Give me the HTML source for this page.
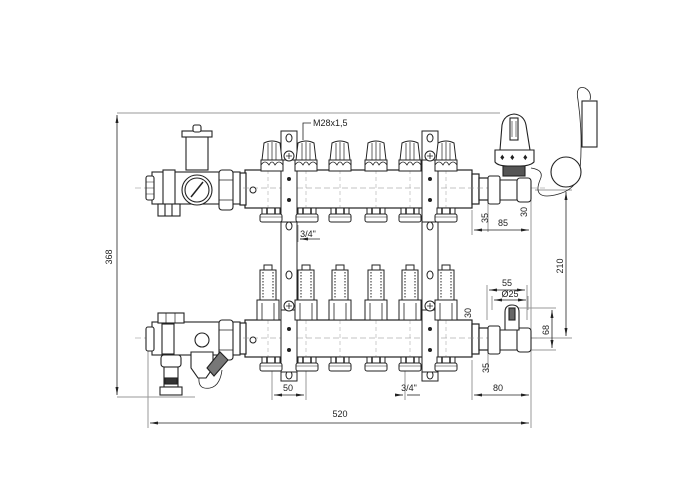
<!DOCTYPE html>
<html><head><meta charset="utf-8"><style>
html,body{margin:0;padding:0;background:#fff;}
svg{display:block;}
text{font-family:"Liberation Sans",sans-serif;font-size:9px;fill:#222;}
</style></head><body>
<svg width="700" height="500" viewBox="0 0 700 500" xmlns="http://www.w3.org/2000/svg">
<defs>
<marker id="a" markerWidth="8" markerHeight="6" refX="8" refY="3" orient="auto-start-reverse" markerUnits="userSpaceOnUse"><path d="M0,1.5 L8,3 L0,4.5 Z" fill="#222"/></marker>
<g id="knob" stroke="#222" fill="#fff" stroke-width="1">
<path d="M-10,0 L-8,-17 Q0,-21 8,-17 L10,0 Z"/>
<path d="M-4,-17 L-4,0 M0,-18 L0,0 M4,-17 L4,0" stroke-width="0.7"/>
<path d="M-11,0 L11,0 L11,11 L-11,11 Z"/>
<path d="M-11,5 Q-7,-1 -3,5 Q0,-1 3,5 Q7,-1 11,5" fill="none" stroke-width="0.8"/>
</g>
<g id="bfit" stroke="#222" fill="#fff" stroke-width="1">
<rect x="-9" y="0" width="18" height="6"/>
<path d="M-4,0 V6 M4,0 V6" stroke-width="1.5"/>
<rect x="-11" y="6" width="22" height="8" rx="2"/>
<line x1="-11" y1="9" x2="11" y2="9" stroke-width="0.6"/>
</g>
<g id="flow" stroke="#222" fill="#fff" stroke-width="1">
<rect x="-4" y="0" width="8" height="5"/>
<rect x="-8" y="5" width="16" height="30"/>
<path d="M-5,7 V33 M5,7 V33" stroke-dasharray="1.5,1.5"/>
<path d="M-11,35 H11 V55 H-11 Z"/>
<path d="M-6,38 V55 M6,38 V55" stroke-width="0.8"/>
</g>
</defs>

<g stroke="#999" fill="none" stroke-width="1">
<line x1="117" y1="113" x2="500" y2="113" stroke="#bbb" stroke-width="1.5"/>
<line x1="117" y1="397" x2="195" y2="397"/>
<line x1="148" y1="340" x2="148" y2="428"/>
<line x1="531" y1="200" x2="531" y2="428"/>
<line x1="472" y1="210" x2="472" y2="235"/>
<line x1="472" y1="360" x2="472" y2="400"/>
<line x1="272" y1="360" x2="272" y2="400"/>
<line x1="306" y1="360" x2="306" y2="400"/>
<line x1="298" y1="225" x2="298" y2="242"/>
<line x1="405" y1="360" x2="405" y2="400"/>
<line x1="535" y1="190" x2="572" y2="190"/>
<line x1="520" y1="338" x2="572" y2="338"/>
<line x1="487" y1="285" x2="487" y2="320"/>
<line x1="527" y1="285" x2="527" y2="320"/>
<line x1="492" y1="296" x2="492" y2="310"/>
<line x1="528" y1="296" x2="528" y2="310"/>
<line x1="510" y1="308" x2="556" y2="308"/>
<line x1="515" y1="350" x2="556" y2="350"/>
<line x1="488" y1="195" x2="488" y2="232"/>
<line x1="488" y1="345" x2="488" y2="370"/>
</g>
<g stroke="#222" stroke-width="0.8" fill="none">
<line x1="117" y1="115" x2="117" y2="395" marker-start="url(#a)" marker-end="url(#a)"/>
<line x1="150" y1="423" x2="529" y2="423" marker-start="url(#a)" marker-end="url(#a)"/>
<line x1="474" y1="230" x2="529" y2="230" marker-start="url(#a)" marker-end="url(#a)"/>
<line x1="566" y1="192" x2="566" y2="336" marker-start="url(#a)" marker-end="url(#a)"/>
<line x1="489" y1="290" x2="525" y2="290" marker-start="url(#a)" marker-end="url(#a)"/>
<line x1="494" y1="300" x2="526" y2="300" marker-start="url(#a)" marker-end="url(#a)"/>
<line x1="552" y1="310" x2="552" y2="348" marker-start="url(#a)" marker-end="url(#a)"/>
<line x1="474" y1="395" x2="529" y2="395" marker-start="url(#a)" marker-end="url(#a)"/>
<line x1="274" y1="395" x2="304" y2="395" marker-start="url(#a)" marker-end="url(#a)"/>
<line x1="395" y1="395" x2="403" y2="395" marker-end="url(#a)"/>
<line x1="420" y1="395" x2="407" y2="395"/>
<line x1="300" y1="239" x2="320" y2="239"/>
<line x1="300" y1="239" x2="306" y2="239" marker-start="url(#a)"/>
<path d="M303,140 V123 H311"/>
</g>
<g>
<text x="112" y="257" transform="rotate(-90 112 257)" text-anchor="middle">368</text>
<text x="340" y="417" text-anchor="middle">520</text>
<text x="503" y="226" text-anchor="middle">85</text>
<text x="488" y="218" transform="rotate(-90 488 218)" text-anchor="middle">35</text>
<text x="527" y="212" transform="rotate(-90 527 212)" text-anchor="middle">30</text>
<text x="563" y="266" transform="rotate(-90 563 266)" text-anchor="middle">210</text>
<text x="507" y="286" text-anchor="middle">55</text>
<text x="510" y="297" text-anchor="middle">Ø25</text>
<text x="549" y="330" transform="rotate(-90 549 330)" text-anchor="middle">68</text>
<text x="471" y="313" transform="rotate(-90 471 313)" text-anchor="middle">30</text>
<text x="489" y="368" transform="rotate(-90 489 368)" text-anchor="middle">35</text>
<text x="498" y="391" text-anchor="middle">80</text>
<text x="288" y="391" text-anchor="middle">50</text>
<text x="409" y="391" text-anchor="middle">3/4"</text>
<text x="308" y="237" text-anchor="middle" font-size="8">3/4"</text>
<text x="313" y="126" font-size="10">M28x1,5</text>
</g>

<g stroke="#222" fill="#fff" stroke-width="1">
<rect x="281" y="131" width="16" height="250"/>
<rect x="422" y="131" width="16" height="250"/>
<ellipse cx="289" cy="138" rx="3" ry="4"/><ellipse cx="430" cy="138" rx="3" ry="4"/>
<ellipse cx="289" cy="226" rx="3" ry="4"/><ellipse cx="430" cy="226" rx="3" ry="4"/>
<ellipse cx="289" cy="275" rx="3" ry="4"/><ellipse cx="430" cy="275" rx="3" ry="4"/>
<ellipse cx="289" cy="375" rx="3" ry="4"/><ellipse cx="430" cy="375" rx="3" ry="4"/>
</g>

<g stroke="#222" fill="#fff" stroke-width="1.2">
<rect x="245" y="170" width="227" height="38"/>
<rect x="240" y="173" width="6" height="32"/>
<rect x="472" y="174" width="7" height="30"/>
<rect x="479" y="178" width="10" height="22"/>
<rect x="245" y="320" width="227" height="37"/>
<rect x="240" y="323" width="6" height="31"/>
<rect x="472" y="324" width="7" height="30"/>
<rect x="479" y="328" width="10" height="22"/>
</g>
<g stroke="#888" stroke-width="0.6" stroke-dasharray="6,3" fill="none">
<line x1="135" y1="188" x2="545" y2="188"/>
<line x1="135" y1="338" x2="545" y2="338"/>
</g>
<g stroke="#999" stroke-width="0.5" stroke-dasharray="4,3">
<line x1="268" y1="170" x2="268" y2="208"/><line x1="306" y1="170" x2="306" y2="208"/><line x1="340" y1="170" x2="340" y2="208"/><line x1="376" y1="170" x2="376" y2="208"/><line x1="410" y1="170" x2="410" y2="208"/><line x1="446" y1="170" x2="446" y2="208"/>
<line x1="268" y1="320" x2="268" y2="357"/><line x1="306" y1="320" x2="306" y2="357"/><line x1="340" y1="320" x2="340" y2="357"/><line x1="376" y1="320" x2="376" y2="357"/><line x1="410" y1="320" x2="410" y2="357"/><line x1="446" y1="320" x2="446" y2="357"/>
</g>
<g stroke="#222" fill="#fff">
<circle cx="253" cy="190" r="3"/><circle cx="253" cy="340" r="3"/>
</g>
<g stroke="#222" fill="#fff" stroke-width="1">
<rect x="281" y="160" width="16" height="62"/><rect x="422" y="160" width="16" height="62"/>
<rect x="281" y="310" width="16" height="62"/><rect x="422" y="310" width="16" height="62"/>
<circle cx="289" cy="156" r="5"/><circle cx="430" cy="156" r="5"/>
<circle cx="289" cy="306" r="5"/><circle cx="430" cy="306" r="5"/>
<path d="M286,156 H292 M289,153 V159 M427,156 H433 M430,153 V159 M286,306 H292 M289,303 V309 M427,306 H433 M430,303 V309" stroke-width="0.8"/>
</g>
<g fill="#222">
<circle cx="289" cy="179" r="2"/><circle cx="289" cy="200" r="2"/><circle cx="430" cy="179" r="2"/><circle cx="430" cy="200" r="2"/>
<circle cx="289" cy="329" r="2"/><circle cx="289" cy="350" r="2"/><circle cx="430" cy="329" r="2"/><circle cx="430" cy="350" r="2"/>
</g>

<use href="#knob" x="272" y="160"/><use href="#knob" x="306" y="160"/><use href="#knob" x="340" y="160"/><use href="#knob" x="376" y="160"/><use href="#knob" x="410" y="160"/><use href="#knob" x="446" y="160"/>
<use href="#bfit" x="271" y="208"/><use href="#bfit" x="307" y="208"/><use href="#bfit" x="340" y="208"/><use href="#bfit" x="376" y="208"/><use href="#bfit" x="410" y="208"/><use href="#bfit" x="446" y="208"/>
<use href="#flow" x="268" y="265"/><use href="#flow" x="306" y="265"/><use href="#flow" x="340" y="265"/><use href="#flow" x="376" y="265"/><use href="#flow" x="410" y="265"/><use href="#flow" x="446" y="265"/>
<use href="#bfit" x="271" y="357"/><use href="#bfit" x="307" y="357"/><use href="#bfit" x="340" y="357"/><use href="#bfit" x="376" y="357"/><use href="#bfit" x="410" y="357"/><use href="#bfit" x="446" y="357"/>

<g stroke="#222" fill="#fff" stroke-width="1.1">
<rect x="152" y="172" width="88" height="32"/>
<rect x="146" y="176" width="8" height="24" rx="2"/>
<path d="M146,182 H154 M146,188 H154 M146,194 H154" stroke-width="0.6"/>
<rect x="163" y="170" width="12" height="36"/>
<rect x="158" y="204" width="22" height="12"/>
<path d="M165,204 V216 M172,204 V216"/>
<circle cx="197" cy="190" r="15"/><circle cx="197" cy="190" r="12"/>
<line x1="191" y1="197" x2="203" y2="182" stroke-width="1.5"/>
<rect x="186" y="136" width="22" height="34"/>
<rect x="182" y="131" width="30" height="6"/>
<rect x="193" y="125" width="8" height="7" rx="2"/>
<rect x="219" y="170" width="14" height="40" rx="3"/>
<path d="M219,180 H233 M219,200 H233" stroke-width="0.7"/>
</g>
<g stroke="#222" fill="#fff" stroke-width="1.1">
<rect x="152" y="322" width="88" height="33"/>
<rect x="146" y="327" width="8" height="24" rx="2"/>
<rect x="158" y="313" width="26" height="10"/>
<path d="M166,313 V323 M175,313 V323" stroke-width="0.7"/>
<rect x="162" y="324" width="12" height="30"/>
<circle cx="202" cy="340" r="7"/>
<rect x="219" y="320" width="14" height="40" rx="3"/>
<path d="M219,330 H233 M219,350 H233" stroke-width="0.7"/>
<rect x="161" y="355" width="20" height="12" rx="3"/>
<rect x="164" y="367" width="14" height="20"/>
<rect x="165" y="378" width="12" height="6" fill="#333"/>
<rect x="160" y="387" width="22" height="8"/>
<path d="M191,352 H213 V368 L206,378 H198 L191,368 Z"/>
<path d="M207,368 L220,352 L228,360 L214,376 Z" fill="#777"/>
<path d="M199,378 Q198,390 210,388 Q220,386 222,370" fill="none" stroke-width="0.8"/>
</g>

<g stroke="#222" fill="#fff" stroke-width="1.1">
<rect x="488" y="176" width="12" height="28" rx="2"/>
<path d="M500,180 H520 V200 H500 Z"/>
<rect x="517" y="178" width="14" height="24" rx="3"/>
<rect x="503" y="166" width="22" height="10" fill="#555"/>
<path d="M495,150 H534 V162 Q530,166 520,166 H508 Q498,166 495,162 Z"/>
<path d="M500,150 L502,125 Q504,115 514,114 Q524,115 526,125 L530,150 Z"/>
<rect x="510" y="118" width="8" height="22"/>
<path d="M512,121 V137 M516,121 V137" stroke-width="0.6"/>
<path d="M531,168 Q545,170 540,180 Q532,200 555,195 Q578,190 580,170 Q583,135 578,100 Q575,85 585,88 Q592,92 590,100" fill="none" stroke-width="0.8"/>
<circle cx="566" cy="172" r="15"/>
<rect x="582" y="101" width="15" height="46"/>
</g>
<g fill="#222" font-size="6"><text x="500" y="160">♦</text><text x="510" y="160">♦</text><text x="523" y="160">♦</text></g>
<g stroke="#222" fill="#fff" stroke-width="1.1">
<rect x="488" y="326" width="12" height="28" rx="2"/>
<path d="M500,330 H520 V350 H500 Z"/>
<rect x="517" y="328" width="14" height="24" rx="3"/>
<path d="M505,330 V312 Q505,305 512,305 Q519,305 519,312 V330 Z"/>
<rect x="509" y="308" width="6" height="12" fill="#666"/>
</g>
</svg>
</body></html>
